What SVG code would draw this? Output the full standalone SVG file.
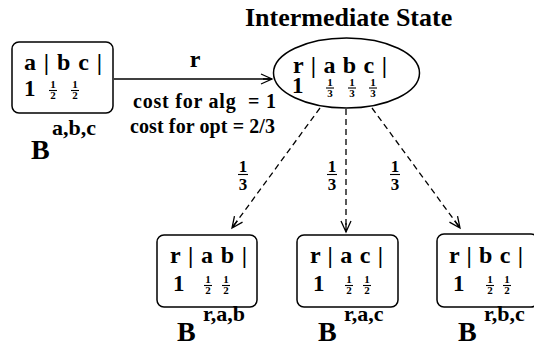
<svg xmlns="http://www.w3.org/2000/svg" width="534" height="347" viewBox="0 0 534 347">
<defs>
<style>
text{font-family:"Liberation Serif","Times New Roman",serif;font-weight:bold;fill:#000}
.big{font-size:24px}
.one{font-size:23px}
.B{font-size:28px}
.sup{font-size:22px}
.fr{font-size:11px;text-anchor:middle}
.fl{font-size:17px;text-anchor:middle}
.box{fill:none;stroke:#000;stroke-width:1.5}
.ln{stroke:#000;stroke-width:1.1;fill:none}
.conn{stroke:#000;stroke-width:1.3;fill:none}
.dash{stroke-dasharray:6,4}
</style>
<marker id="ah" markerWidth="14" markerHeight="12" refX="12" refY="6" orient="auto" markerUnits="userSpaceOnUse">
<path d="M1,1 L12,6 L1,11 M12,6 L3,6" fill="none" stroke="#000" stroke-width="1.3"/>
</marker>
</defs>
<text x="245" y="26" style="font-size:26px">Intermediate State</text>

<g id="connectors">
<line class="conn" x1="114" y1="79" x2="272" y2="79" marker-end="url(#ah)"/>
<text x="195" y="67" class="big" text-anchor="middle">r</text>
<text x="133" y="108" style="font-size:20px" textLength="143" lengthAdjust="spacing" xml:space="preserve">cost for alg  = 1</text>
<text x="130" y="133" style="font-size:20px" textLength="145" lengthAdjust="spacing">cost for opt = 2/3</text>
<line class="conn dash" x1="320" y1="108" x2="232" y2="228" marker-end="url(#ah)"/>
<line class="conn dash" x1="346" y1="109" x2="346" y2="232" marker-end="url(#ah)"/>
<line class="conn dash" x1="372" y1="108" x2="460" y2="228" marker-end="url(#ah)"/>
<g>
<text x="243" y="172" class="fl">1</text><line class="ln" x1="238" y1="174.5" x2="248" y2="174.5" stroke-width="1.3"/><text x="243" y="190" class="fl">3</text>
<text x="332" y="172" class="fl">1</text><line class="ln" x1="327" y1="174.5" x2="337" y2="174.5" stroke-width="1.3"/><text x="332" y="190" class="fl">3</text>
<text x="395" y="172" class="fl">1</text><line class="ln" x1="390" y1="174.5" x2="400" y2="174.5" stroke-width="1.3"/><text x="395" y="190" class="fl">3</text>
</g>
</g>

<g id="node-abc">
<rect class="box" x="12" y="42" width="101" height="71" rx="7"/>
<text x="24" y="70" class="big" textLength="78" lengthAdjust="spacing">a | b c |</text>
<text x="24" y="96" class="one">1</text>
<text x="53" y="88" class="fr">1</text><line class="ln" x1="49" y1="90.5" x2="57" y2="90.5"/><text x="53" y="99" class="fr">2</text>
<text x="75" y="88" class="fr">1</text><line class="ln" x1="71" y1="90.5" x2="79" y2="90.5"/><text x="75" y="99" class="fr">2</text>
<text x="31" y="159" class="B">B</text>
<text x="52" y="135" class="sup">a,b,c</text>
</g>

<g id="node-intermediate">
<ellipse cx="346.5" cy="73" rx="73" ry="35" class="box"/>
<text x="293" y="73" class="big" textLength="94" lengthAdjust="spacing">r | a b c |</text>
<text x="292" y="93" class="one">1</text>
<text x="330" y="86" class="fr">1</text><line class="ln" x1="326" y1="88" x2="334" y2="88"/><text x="330" y="97" class="fr">3</text>
<text x="352" y="86" class="fr">1</text><line class="ln" x1="348" y1="88" x2="356" y2="88"/><text x="352" y="97" class="fr">3</text>
<text x="373" y="86" class="fr">1</text><line class="ln" x1="369" y1="88" x2="377" y2="88"/><text x="373" y="97" class="fr">3</text>
</g>

<g id="node-rab">
<rect class="box" x="157" y="235" width="100" height="72" rx="7"/>
<text x="170" y="263" class="big" textLength="77" lengthAdjust="spacing">r | a b |</text>
<text x="173" y="291" class="one">1</text>
<text x="208" y="283" class="fr">1</text><line class="ln" x1="204" y1="285.5" x2="212" y2="285.5"/><text x="208" y="294" class="fr">2</text>
<text x="226" y="283" class="fr">1</text><line class="ln" x1="222" y1="285.5" x2="230" y2="285.5"/><text x="226" y="294" class="fr">2</text>
<text x="177" y="341" class="B">B</text>
<text x="203" y="321" class="sup">r,a,b</text>
</g>

<g id="node-rac">
<rect class="box" x="297" y="235" width="101" height="72" rx="7"/>
<text x="310" y="263" class="big" textLength="73" lengthAdjust="spacing">r | a c |</text>
<text x="313" y="291" class="one">1</text>
<text x="349" y="283" class="fr">1</text><line class="ln" x1="345" y1="285.5" x2="353" y2="285.5"/><text x="349" y="294" class="fr">2</text>
<text x="367" y="283" class="fr">1</text><line class="ln" x1="363" y1="285.5" x2="371" y2="285.5"/><text x="367" y="294" class="fr">2</text>
<text x="318" y="341" class="B">B</text>
<text x="344" y="321" class="sup">r,a,c</text>
</g>

<g id="node-rbc">
<rect class="box" x="437" y="234" width="101" height="73" rx="7"/>
<text x="449" y="263" class="big" textLength="74" lengthAdjust="spacing">r | b c |</text>
<text x="453" y="291" class="one">1</text>
<text x="490" y="283" class="fr">1</text><line class="ln" x1="486" y1="285.5" x2="494" y2="285.5"/><text x="490" y="294" class="fr">2</text>
<text x="507" y="283" class="fr">1</text><line class="ln" x1="503" y1="285.5" x2="511" y2="285.5"/><text x="507" y="294" class="fr">2</text>
<text x="458" y="341" class="B">B</text>
<text x="484" y="321" class="sup">r,b,c</text>
</g>
</svg>
